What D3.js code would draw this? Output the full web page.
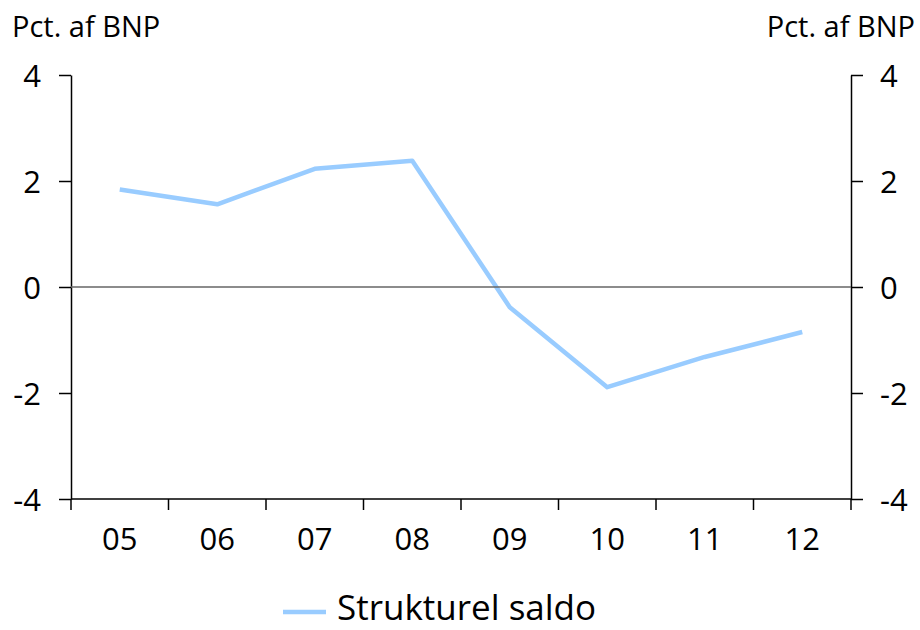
<!DOCTYPE html>
<html>
<head>
<meta charset="utf-8">
<script src="https://cdn.jsdelivr.net/npm/d3@7"></script>
<style>
  body { margin: 0; background: #fff; }
  svg { display: block; font-family: "Open Sans", sans-serif; }
  .axis path, .axis line { stroke: #000; stroke-width: 1.5; }
  .axis text { font-size: 31px; fill: #000; font-family: "Open Sans", sans-serif; }
</style>
</head>
<body>
<div id="chart-container"></div>
<script>
// Data.
const years = ["05", "06", "07", "08", "09", "10", "11", "12"];
const strukturelSaldo = [1.84, 1.56, 2.23, 2.38, -0.38, -1.89, -1.32, -0.85];
const yTicks = [-4, -2, 0, 2, 4];
const unitLabel = "Pct. af BNP";
const seriesName = "Strukturel saldo";

// Sizing variables.
let margin = { top: 75, right: 69, bottom: 131, left: 71 },
  fWidth = 920,
  fHeight = 630,
  width = fWidth - margin.left - margin.right,
  height = fHeight - margin.top - margin.bottom;

let svg = d3.select("#chart-container").append("svg")
  .attr("width", fWidth)
  .attr("height", fHeight);

let chartCanvas = svg.append("g")
  .attr("transform", `translate(${ margin.left } ${ margin.top })`);

// Scales.
let xScale = d3.scaleBand()
  .domain(years)
  .range([0, width]);

let yScale = d3.scaleLinear()
  .domain([-4, 4])
  .range([height, 0]);

let bandwidth = xScale.bandwidth();

// Plain hyphen for negatives, like the original.
let yFormat = d => String(d);

// Left axis.
chartCanvas.append("g")
  .attr("class", "axis")
  .call(d3.axisLeft(yScale).tickValues(yTicks).tickFormat(yFormat).tickSize(12).tickPadding(18).tickSizeOuter(0))
  .selectAll("text").attr("dy", "0.36em");

// Right axis.
chartCanvas.append("g")
  .attr("class", "axis")
  .attr("transform", `translate(${ width } 0)`)
  .call(d3.axisRight(yScale).tickValues(yTicks).tickFormat(yFormat).tickSize(12).tickPadding(17).tickSizeOuter(0))
  .selectAll("text").attr("dy", "0.36em");

// Bottom axis, ticks between the categories.
let xAxis = chartCanvas.append("g")
  .attr("class", "axis")
  .attr("transform", `translate(0 ${ height })`);

xAxis.append("line")
  .attr("x1", 0)
  .attr("x2", width)
  .attr("stroke", "#000")
  .attr("stroke-width", 1.5);

xAxis.selectAll(".x-tick")
  .data(years.concat(["end"]))
  .enter()
  .append("line")
    .attr("class", "x-tick")
    .attr("x1", (d, i) => i < years.length ? xScale(d) : width)
    .attr("x2", (d, i) => i < years.length ? xScale(d) : width)
    .attr("y1", 0)
    .attr("y2", 11)
    .attr("stroke", "#000")
    .attr("stroke-width", 1.5);

xAxis.selectAll(".x-label")
  .data(years)
  .enter()
  .append("text")
    .attr("class", "x-label")
    .attr("x", d => xScale(d) + bandwidth / 2)
    .attr("y", 51)
    .attr("text-anchor", "middle")
    .style("font-size", "31px")
    .text(d => d);

// Series line.
let pathGen = d3.line()
  .x((d, i) => xScale(years[i]) + bandwidth / 2)
  .y(d => yScale(d));

chartCanvas.append("path")
  .attr("d", pathGen(strukturelSaldo))
  .attr("fill", "none")
  .attr("stroke", "#99ccff")
  .attr("stroke-width", 4.5)
  .attr("stroke-linejoin", "round");

// Zero line.
chartCanvas.append("line")
  .attr("x1", 0)
  .attr("x2", width)
  .attr("y1", yScale(0))
  .attr("y2", yScale(0))
  .attr("stroke", "#666")
  .attr("stroke-width", 1.3);

// Unit labels.
svg.append("text")
  .attr("x", 12)
  .attr("y", 37)
  .style("font-size", "29px")
  .text(unitLabel);

svg.append("text")
  .attr("x", 915)
  .attr("y", 37)
  .attr("text-anchor", "end")
  .style("font-size", "29px")
  .text(unitLabel);

// Legend.
let legend = svg.append("g")
  .attr("transform", "translate(283 612)");

legend.append("line")
  .attr("x1", 0)
  .attr("x2", 43)
  .attr("stroke", "#99ccff")
  .attr("stroke-width", 4.5);

legend.append("text")
  .attr("x", 54)
  .attr("y", 8)
  .style("font-size", "35px")
  .text(seriesName);
</script>
</body>
</html>
